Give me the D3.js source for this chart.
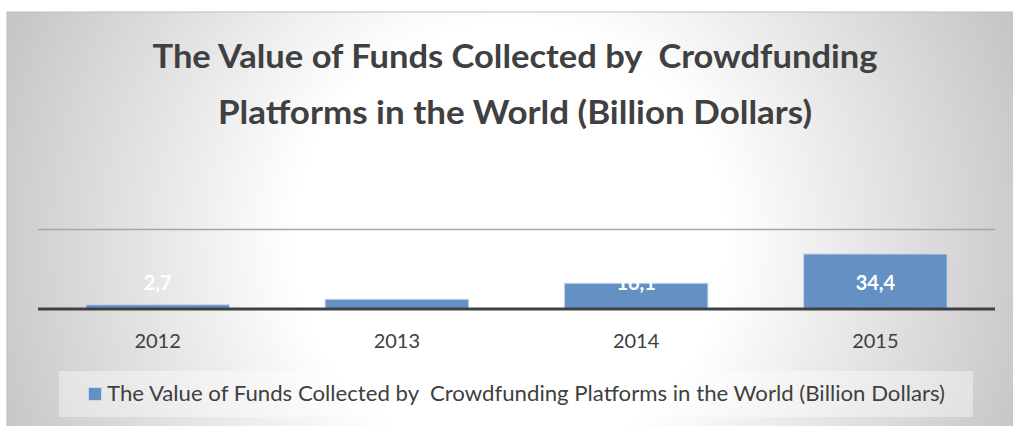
<!DOCTYPE html>
<html>
<head>
<meta charset="utf-8">
<script src="https://cdn.jsdelivr.net/npm/d3@7/dist/d3.min.js"></script>
<style>
  html, body { margin: 0; padding: 0; background: #ffffff; }
  svg { display: block; }
  text { font-family: Lato, "Open Sans", sans-serif; }
</style>
</head>
<body>
<svg id="chart" width="1013" height="426"></svg>
<script>
// Crowdfunding volume worldwide, billions of US dollars
const years = ["2012", "2013", "2014", "2015"];
const values = [2.7, 6.1, 16.1, 34.4];
const gridTicks = [50];
const titleLines = [
  "The Value of Funds Collected by  Crowdfunding",
  "Platforms in the World (Billion Dollars)"
];
const seriesName = "The Value of Funds Collected by  Crowdfunding Platforms in the World (Billion Dollars)";

const W = 1013, H = 426;
const svg = d3.select("#chart");
const fmt = d3.formatLocale({ decimal: ",", thousands: ".", grouping: [3], currency: ["", ""] }).format(".1f");

// Chart area background: soft radial gradient, white in the middle
const defs = svg.append("defs");
const grad = defs.append("radialGradient")
  .attr("id", "bg")
  .attr("gradientUnits", "userSpaceOnUse")
  .attr("cx", 510).attr("cy", 240).attr("r", 540);
grad.append("stop").attr("offset", 0).attr("stop-color", "#ffffff");
grad.append("stop").attr("offset", 0.4).attr("stop-color", "#ffffff");
grad.append("stop").attr("offset", 1).attr("stop-color", "#c6c6c6");

svg.append("rect")
  .attr("x", 7).attr("y", 12)
  .attr("width", W - 7 + 2).attr("height", H - 12 + 2)
  .attr("fill", "url(#bg)")
  .attr("stroke", "#bdbdbd").attr("stroke-width", 1);

// Scales
const x = d3.scaleBand()
  .domain(years)
  .range([38, 995])
  .paddingInner(0.4)
  .paddingOuter(0.2);

const y = d3.scaleLinear()
  .domain([0, 50])
  .range([309, 229]);

// Horizontal gridline
svg.append("g")
  .attr("transform", "translate(38,0)")
  .call(d3.axisLeft(y).tickValues(gridTicks).tickSize(-(995 - 38)).tickFormat(""))
  .call(g => g.select(".domain").remove())
  .call(g => g.selectAll(".tick line").attr("stroke", "#a6a6a6").attr("stroke-width", 1.5));

// Bars
svg.append("g")
  .selectAll("rect")
  .data(values)
  .join("rect")
  .attr("x", (d, i) => x(years[i]))
  .attr("width", x.bandwidth())
  .attr("y", d => y(d))
  .attr("height", d => y(0) - y(d))
  .attr("fill", "#6590c4")
  .attr("stroke", "#c9d8ec")
  .attr("stroke-width", 1);

// Category axis
svg.append("g")
  .attr("transform", `translate(0,${y(0)})`)
  .call(d3.axisBottom(x).tickSize(0).tickPadding(0))
  .call(g => g.select(".domain")
    .attr("d", `M38,0H995`)
    .attr("stroke", "#404040")
    .attr("stroke-width", 3))
  .call(g => g.selectAll(".tick text")
    .attr("dy", null)
    .attr("y", 39)
    .attr("fill", "#404040")
    .style("font-family", "Lato, sans-serif")
    .style("font-size", "20px"));

// Data labels
svg.append("g")
  .selectAll("text")
  .data(values)
  .join("text")
  .attr("x", (d, i) => x(years[i]) + x.bandwidth() / 2)
  .attr("y", y(0) - 19)
  .attr("text-anchor", "middle")
  .attr("fill", "#ffffff")
  .style("font-size", "20px")
  .style("font-weight", "bold")
  .text(d => fmt(d));

// Title
svg.append("g")
  .selectAll("text")
  .data(titleLines)
  .join("text")
  .attr("x", 515)
  .attr("y", (d, i) => 68 + i * 56)
  .attr("text-anchor", "middle")
  .attr("fill", "#404040")
  .style("font-size", "33px")
  .style("font-weight", "bold")
  .style("white-space", "pre")
  .attr("textLength", (d, i) => [725, 594][i])
  .attr("lengthAdjust", "spacingAndGlyphs")
  .text(d => d);

// Legend
const legend = svg.append("g");
legend.append("rect")
  .attr("x", 59).attr("y", 371)
  .attr("width", 914).attr("height", 46)
  .attr("fill", "#ffffff").attr("fill-opacity", 0.4);
legend.append("rect")
  .attr("x", 88.5).attr("y", 387.5)
  .attr("width", 13).attr("height", 13)
  .attr("fill", "#6590c4")
  .attr("stroke", "#c9d8ec").attr("stroke-width", 1);
legend.append("text")
  .attr("x", 107).attr("y", 401)
  .attr("fill", "#404040")
  .style("font-size", "21.5px")
  .style("white-space", "pre")
  .attr("textLength", 838)
  .attr("lengthAdjust", "spacingAndGlyphs")
  .text(seriesName);
</script>
</body>
</html>
